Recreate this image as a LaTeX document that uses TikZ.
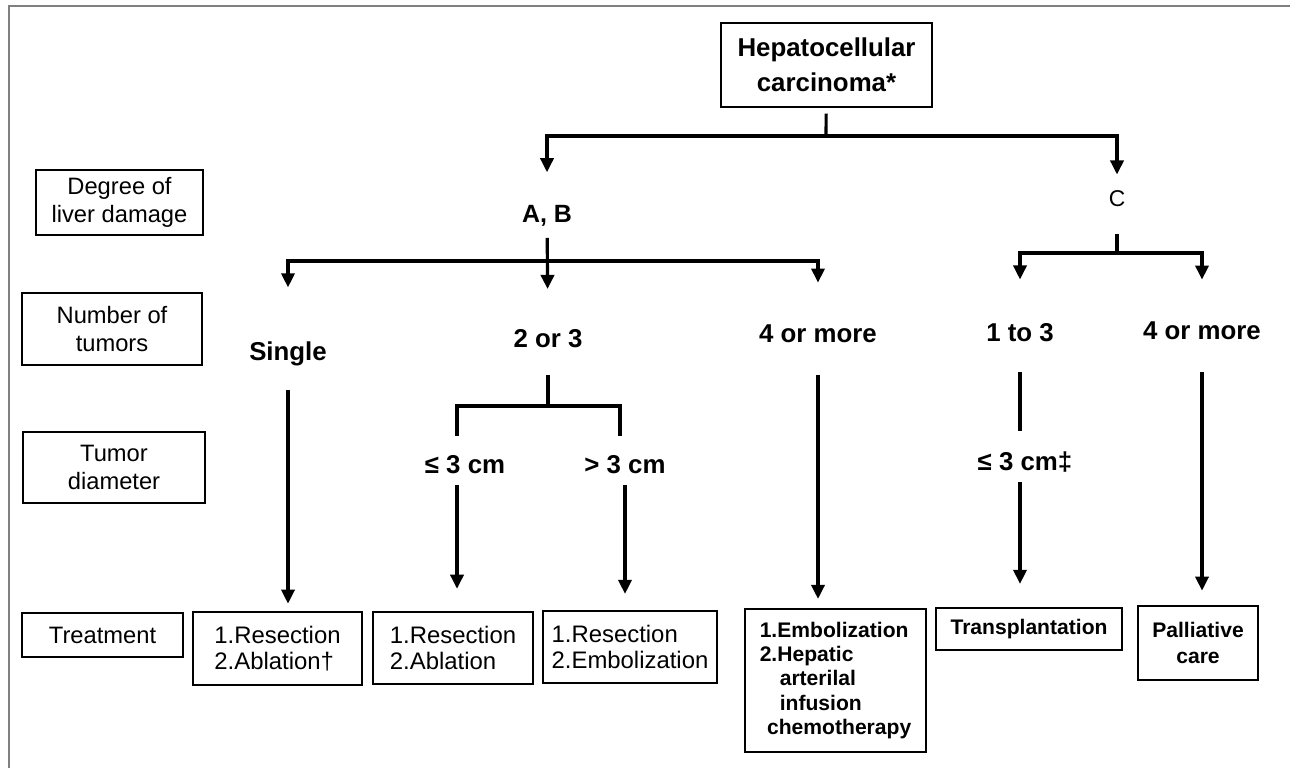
\documentclass[tikz,border=0pt]{standalone}
\usepackage{fontspec}
\setmainfont{Liberation Sans}
\usetikzlibrary{arrows.meta}
\tikzset{>={Triangle[width=7.5pt,length=8pt]},
  conn/.style={line width=1.8pt},
  rowbox/.style={draw, line width=1.3pt, align=center, inner sep=0pt, font=\fontsize{13.5}{15.6}\selectfont},
  trtbox/.style={draw, line width=1.5pt, align=left, inner sep=0pt, font=\fontsize{13.6}{14.4}\selectfont},
  trtbold/.style={trtbox, font=\bfseries\fontsize{12}{13.8}\selectfont},
  lvl/.style={inner sep=0pt, text depth=0pt, text height=10.5pt, anchor=south, font=\bfseries\fontsize{14.7}{17}\selectfont}}

\begin{document}
\begin{tikzpicture}[x=0.02cm, y=-0.02cm]
\useasboundingbox (0,0) rectangle (1290,768);
\draw[gray, line width=1.1pt] (9,768) -- (9,6) -- (1290,6);

\node[draw, line width=1.5pt, align=center, inner sep=0pt, minimum width=4.22cm, minimum height=1.68cm, font=\bfseries\fontsize{14.7}{20}\selectfont] (hcc) at (826.5,65) {Hepatocellular\\carcinoma*};

\node[rowbox, minimum width=3.34cm, minimum height=1.3cm] (rdmg) at (119.5,202.5) {Degree of\\liver damage};
\node[rowbox, minimum width=3.6cm, minimum height=1.44cm] (rnum) at (112,329) {Number of\\tumors};
\node[rowbox, minimum width=3.64cm, minimum height=1.42cm] (rdia) at (114,467.5) {Tumor\\diameter};
\node[rowbox, minimum width=3.22cm, minimum height=0.88cm] (rtrt) at (102.5,635) {Treatment};

\node[lvl, font=\bfseries\fontsize{14.2}{17}\selectfont] (ab) at (547,223) {A, B};
\node[lvl, font=\fontsize{13}{14}\selectfont, text height=9.3pt] (cc) at (1117,207) {C};
\node[lvl] (single) at (288,361) {Single};
\node[lvl] (two) at (548,348) {2 or 3};
\node[lvl] (fourab) at (818,343) {4 or more};
\node[lvl] (onethree) at (1020,342) {1 to 3};
\node[lvl] (fourc) at (1202,340) {4 or more};
\node[lvl] (le) at (465,474) {≤ 3 cm};
\node[lvl] (gt) at (625,474) {> 3 cm};
\node[lvl] (le2) at (1025,471) {≤ 3 cm‡};

\node[trtbox, minimum width=3.38cm, minimum height=1.46cm] (tsingle) at (277.5,648.5) {1.Resection\\2.Ablation†};
\node[trtbox, minimum width=3.2cm, minimum height=1.44cm] (tle) at (453,648) {1.Resection\\2.Ablation};
\node[trtbox, minimum width=3.48cm, minimum height=1.44cm] (tgt) at (630,647) {1.Resection\\2.Embolization};
\node[trtbold, minimum width=3.62cm, minimum height=2.86cm] (tfour) at (835.5,680.5) {1.Embolization\\2.Hepatic\\\hspace*{0.95em}arterilal\\\hspace*{0.95em}infusion\\\hspace*{0.35em}chemotherapy};
\node[trtbold, minimum width=3.72cm, minimum height=0.84cm] (ttrans) at (1029,629) {Transplantation};
\node[trtbold, align=center, font=\bfseries\fontsize{12}{15.3}\selectfont, minimum width=2.4cm, minimum height=1.48cm] (tpall) at (1198,643) {Palliative\\care};

\coordinate (j1) at (826,136);
\coordinate (j2) at (547,261);
\coordinate (j3) at (1117,253);
\coordinate (j4) at (548,406);
\coordinate (b1) at (457,436);
\coordinate (b2) at (620,436);

\draw[conn, shorten <=3pt] (hcc) -- (j1);
\draw[conn,->, shorten >=18pt] (j1) -| (ab);
\draw[conn,->, shorten >=8.8pt] (j1) -| (cc);

\draw[conn,->, shorten <=8.5pt, shorten >=22.7pt] (ab) -- (two);
\draw[conn,->, shorten >=31pt] (j2) -| (single);
\draw[conn,->, shorten >=23.5pt] (j2) -| (fourab);

\draw[conn, shorten <=15.5pt] (cc) -- (j3);
\draw[conn,->, shorten >=24.7pt] (j3) -| (onethree);
\draw[conn,->, shorten >=23.5pt] (j3) -| (fourc);

\draw[conn, shorten <=15.3pt] (two) -- (j4);
\draw[conn] (j4) -| (b1);
\draw[conn] (j4) -| (b2);

\draw[conn,->, shorten <=16.4pt, shorten >=4pt] (single) -- (single |- tsingle.north);
\draw[conn,->, shorten <=6.2pt, shorten >=12.5pt] (le.south -| b1) -- (b1 |- tle.north);
\draw[conn,->, shorten <=6.2pt, shorten >=9pt] (gt) -- (gt |- tgt.north);
\draw[conn,->, shorten <=18pt, shorten >=5pt] (fourab) -- (fourab |- tfour.north);
\draw[conn, shorten <=17pt, shorten >=11.6pt] (onethree) -- (onethree |- le2.north);
\draw[conn,->, shorten <=6.2pt, shorten >=13pt] (le2.south -| onethree) -- (onethree |- ttrans.north);
\draw[conn,->, shorten <=18pt, shorten >=8pt] (fourc) -- (fourc |- tpall.north);
\end{tikzpicture}
\end{document}
